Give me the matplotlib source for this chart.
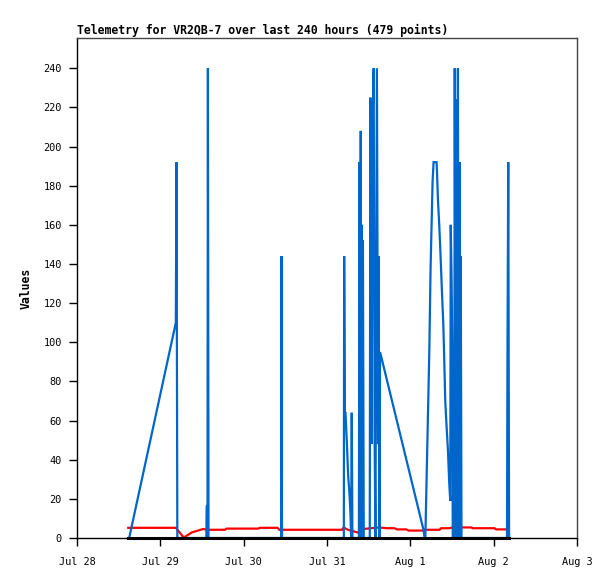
import datetime as dt
import matplotlib
matplotlib.use("Agg")
import matplotlib.pyplot as plt

# ---- data (time as days since Jul 28 00:00) ----
blue_t = [0.626, 1.186, 1.194, 1.204, 1.552, 1.556, 1.566, 1.571, 1.578,
          2.451, 2.455, 2.460,
          3.202, 3.206, 3.214, 3.222, 3.237, 3.254, 3.269, 3.281, 3.290, 3.297, 3.305,
          3.383, 3.389, 3.397, 3.405, 3.413, 3.419, 3.425, 3.431, 3.441,
          3.513, 3.521, 3.536, 3.545, 3.560, 3.572, 3.581, 3.599, 3.613, 3.620, 3.629,
          3.637, 4.159, 4.171,
          4.180, 4.228, 4.243, 4.255, 4.267, 4.279, 4.315, 4.321, 4.331, 4.347,
          4.359, 4.371, 4.383, 4.395, 4.404, 4.419, 4.435, 4.451, 4.467, 4.479,
          4.485, 4.495, 4.503, 4.509, 4.527, 4.533, 4.545, 4.551, 4.563, 4.571,
          4.581, 4.591, 4.599, 4.605, 4.614,
          5.160, 5.166, 5.175, 5.185]
blue_v = [0, 110, 192, 0, 0, 16, 16, 240, 0,
          0, 144, 0,
          0, 144, 64, 64, 50, 32, 23, 13, 0, 64, 0,
          0, 192, 0, 208, 0, 160, 0, 152, 0,
          0, 225, 48, 208, 240, 48, 0, 240, 48, 144, 0,
          95, 4, 0,
          0, 96, 138, 160, 182, 192, 192, 186, 173, 160,
          148, 135, 122, 110, 96, 70, 57, 45, 28, 19,
          160, 133, 96, 0, 0, 240, 0, 224, 0, 240,
          0, 192, 0, 144, 0,
          0, 96, 192, 0]

red_t = [0.615, 1.187, 1.281, 1.375, 1.515, 1.562, 1.773, 1.797, 2.171, 2.195,
         2.406, 2.430, 3.180, 3.200, 3.250, 3.370, 3.440, 3.620, 3.720, 3.810,
         3.840, 3.950, 3.980, 4.160, 4.190, 4.350, 4.370, 4.470, 4.510, 4.730,
         4.750, 5.010, 5.030, 5.150]
red_v = [5.2, 5.2, 0.2, 2.8, 4.6, 4.2, 4.2, 4.8, 4.8, 5.2,
         5.2, 4.2, 4.2, 5.4, 4.2, 2.8, 4.6, 5.4, 5.0, 5.0,
         4.4, 4.4, 3.8, 3.8, 4.2, 4.2, 5.0, 5.0, 5.4, 5.4,
         5.0, 5.0, 4.4, 4.4]

black_t = [0.615, 5.185]
black_v = [0, 0]

tick_days = [0, 1, 2, 3, 4, 5, 6]
tick_labels = ["Jul 28", "Jul 29", "Jul 30", "Jul 31", "Aug 1", "Aug 2", "Aug 3"]
y_ticks = list(range(0, 241, 20))

title = "Telemetry for VR2QB-7 over last 240 hours (479 points)"
ylabel = "Values"

base = dt.datetime(2024, 7, 28)


def to_dates(days):
    return [base + dt.timedelta(days=d) for d in days]


plt.rcParams["font.family"] = ["DejaVu Sans Mono"]

fig = plt.figure(figsize=(6.15, 5.79), dpi=100)
ax = fig.add_axes([77 / 615, 41 / 579, 500 / 615, 499.7 / 579])

ax.plot(to_dates(red_t), red_v, color="#ff0000", lw=1.6, zorder=2,
        solid_joinstyle="miter")
ax.plot(to_dates(blue_t), blue_v, color="#0066cc", lw=1.6, zorder=3,
        solid_joinstyle="miter")
ax.plot(to_dates(black_t), black_v, color="#000000", lw=2.2, zorder=4,
        clip_on=False)

ax.set_xlim(base, base + dt.timedelta(days=6))
ax.set_ylim(0, 255.3)

ax.set_xticks(to_dates(tick_days))
ax.set_xticklabels(tick_labels)
ax.set_yticks(y_ticks)
ax.tick_params(axis="both", direction="out", length=6, width=1,
               labelsize=7.4, colors="black")
ax.tick_params(axis="x", pad=8)
ax.tick_params(axis="y", pad=5)

for side in ("left", "bottom"):
    ax.spines[side].set_color("black")
    ax.spines[side].set_linewidth(1.0)
for side in ("top", "right"):
    ax.spines[side].set_color("#444444")
    ax.spines[side].set_linewidth(1.0)

ax.set_title(title, loc="left", fontsize=8.3, fontweight="bold", pad=3)
ax.set_ylabel(ylabel, fontsize=8.3, fontweight="bold", labelpad=8)

fig.savefig("out.png", dpi=100)
